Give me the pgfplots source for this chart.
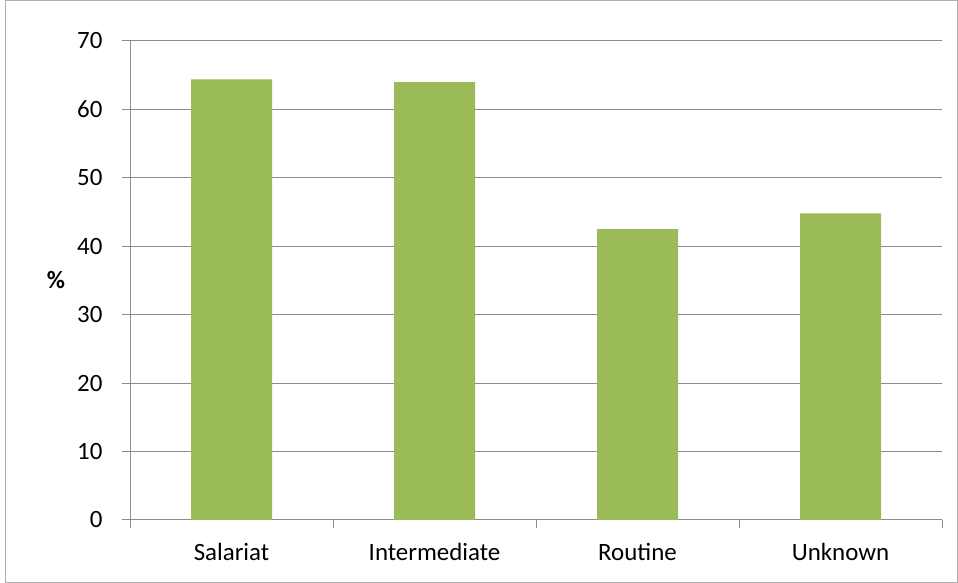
\documentclass[border=0pt]{standalone}
\usepackage{pgfplots}
\pgfplotsset{compat=1.18}
\usepackage{fontspec}
\setmainfont{Carlito}
\definecolor{bargreen}{HTML}{9BBB59}
\definecolor{gridgray}{HTML}{8C8C8C}
\begin{document}
\begin{tikzpicture}[x=1bp,y=1bp]
\useasboundingbox (0,0) rectangle (958,583);
\draw[gridgray!70, line width=1bp] (5,0.5) rectangle (957.5,582.5);
\begin{axis}[
  at={(130bp,63bp)}, anchor=south west,
  scale only axis, width=812bp, height=479bp,
  xmin=-0.5, xmax=3.5, ymin=0, ymax=70,
  ybar, bar width=81bp,
  axis x line*=bottom, axis y line*=left,
  axis line style={gridgray, line width=1bp, -},
  xtick={-0.5,0.5,1.5,2.5,3.5}, xticklabels={},
  extra x ticks={0,1,2,3},
  extra x tick labels={Salariat,Intermediate,Routine,Unknown},
  extra x tick style={major tick length=0pt, xmajorgrids=false},
  ytick={0,10,...,70},
  ymajorgrids,
  grid style={gridgray, line width=1bp},
  major tick length=8bp,
  tick align=outside,
  tick style={gridgray, line width=1bp},
  xtick pos=bottom, ytick pos=left,
  ticklabel style={font=\fontsize{25}{30}\selectfont},
  xticklabel style={yshift=-20bp},
  yticklabel style={xshift=-16bp},
  /pgf/number format/assume math mode=true,
  ylabel={\textbf{\%}},
  every axis y label/.style={at={(axis description cs:0,0.5)}, anchor=center, xshift=-74bp, font=\fontsize{25}{30}\selectfont},
]
\addplot[fill=bargreen, draw=none] coordinates {(0,64.4) (1,64.0) (2,42.5) (3,44.8)};
\end{axis}
\end{tikzpicture}
\end{document}
